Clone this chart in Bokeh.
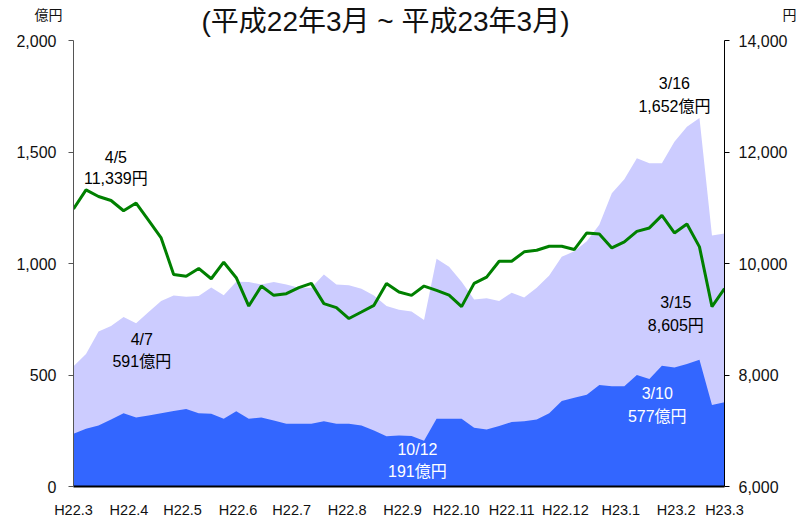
import pandas as pd
from bokeh.plotting import figure
from bokeh.layouts import column
from bokeh.models import (Range1d, LinearAxis, FixedTicker, NumeralTickFormatter,
                          ColumnDataSource)
from bokeh.embed import file_html
from bokeh.resources import INLINE
from bokeh.core.properties import value

# ---------------- data ----------------
start_date = "2010-03-26"
end_date = "2011-03-25"
week_dates = pd.date_range(start_date, end_date, freq="W-FRI")  # weekly (53 points)

# total (light area), 億円
total_oku = [539, 594, 695, 720, 760, 732, 783, 832, 857, 851, 854, 892, 858, 918,
             917, 906, 917, 906, 891, 891, 951, 906, 903, 887, 857, 809, 793, 785,
             747, 1021, 985, 918, 839, 844, 832, 869, 847, 891, 946, 1030, 1055,
             1100, 1174, 1315, 1378, 1472, 1449, 1449, 1546, 1613, 1652, 1126, 1134]

# lower part (dark area), 億円
part_oku = [237, 259, 274, 300, 329, 309, 318, 329, 339, 348, 329, 326, 304, 338,
            304, 309, 296, 281, 281, 281, 293, 281, 281, 274, 251, 225, 229, 227,
            205, 304, 304, 304, 263, 256, 271, 289, 293, 300, 329, 383, 398,
            411, 455, 450, 450, 500, 482, 542, 534, 549, 568, 366, 378]

# index (green line), 円
index_yen = [10977, 11321, 11202, 11130, 10946, 11084, 10773, 10459, 9804, 9773,
             9911, 9727, 10023, 9745, 9237, 9595, 9429, 9459, 9566, 9643, 9280,
             9209, 9013, 9130, 9250, 9643, 9488, 9429, 9595, 9518, 9434, 9227,
             9643, 9755, 10041, 10041, 10209, 10238, 10309, 10309, 10250, 10548,
             10530, 10280, 10388, 10577, 10638, 10863, 10548, 10709, 10298, 9227,
             9548]

tick_dates = ["2010-03-26", "2010-04-26", "2010-05-26", "2010-06-26", "2010-07-26",
              "2010-08-26", "2010-09-26", "2010-10-26", "2010-11-26", "2010-12-26",
              "2011-01-26", "2011-02-26", "2011-03-25"]
tick_labels = ["H22.3", "H22.4", "H22.5", "H22.6", "H22.7", "H22.8", "H22.9",
               "H22.10", "H22.11", "H22.12", "H23.1", "H23.2", "H23.3"]

left_ticks = [0, 500, 1000, 1500, 2000]
right_ticks = [6000, 8000, 10000, 12000, 14000]

note_texts = ["4/5", "11,339円", "4/7", "591億円", "10/12", "191億円",
              "3/10", "577億円", "3/15", "8,605円", "3/16", "1,652億円"]

head_texts = ["(平成22年3月 ~ 平成23年3月)", "億円", "円"]

# ---------------- layout / style ----------------
t0 = pd.Timestamp(start_date)
x_days = [(d - t0).days for d in week_dates]
tick_days = [(pd.Timestamp(d) - t0).days for d in tick_dates]
x_end = (pd.Timestamp(end_date) - t0).days

# annotation anchors (days from start, left-axis value) and colours
note_x = [23.7, 23.7, 38.2, 38.2, 192.3, 192.3, 326.4, 326.4, 336.8, 336.8, 336.0, 336.0]
note_y = [1475, 1379, 657, 560, 166, 69, 415, 315, 826, 724, 1808, 1706]
note_c = ["black", "black", "black", "black", "white", "white",
          "white", "white", "black", "black", "black", "black"]

FONT = "'Liberation Sans', 'Noto Sans CJK JP'"
W = 796
HEAD_H = 42
OVERLAP = 8
MAIN_H = 520 - HEAD_H + OVERLAP

# ---- header strip: title and the two unit labels (pixel coordinates) ----
head = figure(width=W, height=HEAD_H, output_backend="svg", toolbar_location=None,
              x_range=Range1d(0, W), y_range=Range1d(HEAD_H, 0),
              x_axis_location=None, y_axis_location=None,
              min_border=0, min_border_left=0, min_border_right=0,
              min_border_top=0, min_border_bottom=0)
head.outline_line_color = None
head.background_fill_color = "white"
head.border_fill_color = "white"
head.xgrid.grid_line_color = None
head.ygrid.grid_line_color = None
hsrc = ColumnDataSource(dict(x=[385, 48, 789], y=[21, 14, 14], t=head_texts,
                             s=["28px", "14px", "14px"]))
head.text(x="x", y="y", text="t", source=hsrc, text_align="center",
          text_baseline="middle", text_font=value(FONT), text_font_size="s",
          text_color="#111111")

# ---- main chart (its transparent top border overlaps the header a little) ----
p = figure(width=W, height=MAIN_H, output_backend="svg", toolbar_location=None,
           x_range=Range1d(0, x_end), y_range=Range1d(0, 2000),
           min_border_left=73, min_border_right=72, min_border_top=6,
           min_border_bottom=32)
p.margin = (-OVERLAP, 0, 0, 0)
p.outline_line_color = None
p.xgrid.grid_line_color = None
p.ygrid.grid_line_color = None
p.background_fill_color = "white"
p.border_fill_color = None

# keep the two frames independent (no cross-figure frame alignment)
for fig in (head, p):
    try:
        fig.frame_align = False
    except AttributeError:
        pass

p.extra_y_ranges = {"yen": Range1d(6000, 14000)}

src = ColumnDataSource(dict(x=x_days, total=total_oku, part=part_oku, idx=index_yen))
p.varea(x="x", y1=0, y2="total", source=src, fill_color="#CCCCFF")
p.varea(x="x", y1=0, y2="part", source=src, fill_color="#3366FF")
p.line(x="x", y="idx", source=src, y_range_name="yen", line_color="#008000",
       line_width=3)

nsrc = ColumnDataSource(dict(x=note_x, y=note_y, t=note_texts, c=note_c))
p.text(x="x", y="y", text="t", source=nsrc, text_color="c", text_align="center",
       text_baseline="middle", text_font=value(FONT), text_font_size=value("16px"))

# left axis
ya = p.yaxis[0]
ya.ticker = FixedTicker(ticks=left_ticks)
ya.formatter = NumeralTickFormatter(format="0,0")
ya.axis_line_color = "#555555"
ya.major_tick_line_color = "#555555"
ya.major_tick_out = 5
ya.major_tick_in = 0
ya.minor_tick_line_color = None
ya.major_label_standoff = 12
ya.major_label_text_font = FONT
ya.major_label_text_font_size = "16px"
ya.major_label_text_color = "#111111"

# right axis
ra = LinearAxis(y_range_name="yen", ticker=FixedTicker(ticks=right_ticks),
                formatter=NumeralTickFormatter(format="0,0"))
ra.axis_line_color = "black"
ra.major_tick_line_color = "black"
ra.major_tick_out = 5
ra.major_tick_in = 0
ra.minor_tick_line_color = None
ra.major_label_standoff = 9
ra.major_label_text_font = FONT
ra.major_label_text_font_size = "16px"
ra.major_label_text_color = "#111111"
p.add_layout(ra, "right")

# bottom axis
xa = p.xaxis[0]
xa.ticker = FixedTicker(ticks=tick_days)
xa.major_label_overrides = {d: lab for d, lab in zip(tick_days, tick_labels)}
xa.axis_line_color = "black"
xa.axis_line_width = 2
xa.major_tick_line_color = None
xa.major_tick_out = 0
xa.major_tick_in = 0
xa.minor_tick_line_color = None
xa.major_label_standoff = 15
xa.major_label_text_font = FONT
xa.major_label_text_font_size = "14.5px"
xa.major_label_text_color = "#111111"

layout = column(head, p, spacing=0)
open("out.html", "w").write(file_html(layout, INLINE))
